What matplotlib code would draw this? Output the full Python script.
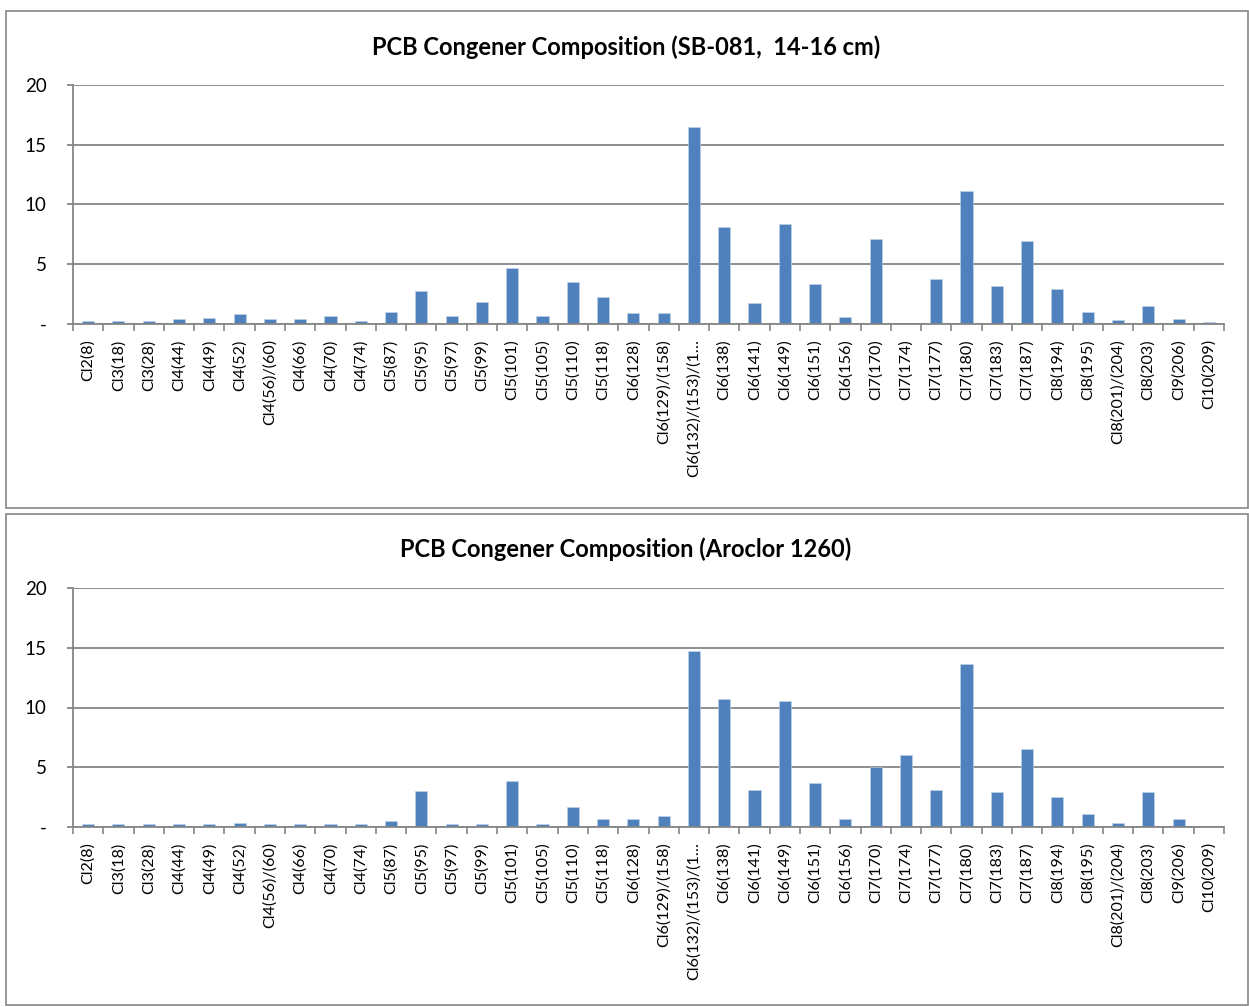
import numpy as np
import matplotlib
matplotlib.use("Agg")
import matplotlib.pyplot as plt
from matplotlib.patches import Rectangle
from matplotlib.ticker import FixedLocator, FuncFormatter

congeners = ["Cl2(8)", "Cl3(18)", "Cl3(28)", "Cl4(44)", "Cl4(49)", "Cl4(52)",
             "Cl4(56)/(60)", "Cl4(66)", "Cl4(70)", "Cl4(74)", "Cl5(87)", "Cl5(95)",
             "Cl5(97)", "Cl5(99)", "Cl5(101)", "Cl5(105)", "Cl5(110)", "Cl5(118)",
             "Cl6(128)", "Cl6(129)/(158)", "Cl6(132)/(153)/(1\u2026", "Cl6(138)",
             "Cl6(141)", "Cl6(149)", "Cl6(151)", "Cl6(156)", "Cl7(170)", "Cl7(174)",
             "Cl7(177)", "Cl7(180)", "Cl7(183)", "Cl7(187)", "Cl8(194)", "Cl8(195)",
             "Cl8(201)/(204)", "Cl8(203)", "Cl9(206)", "Cl10(209)"]

# percent composition, sediment sample SB-081 (14-16 cm)
sb081 = [0.25, 0.25, 0.25, 0.4, 0.5, 0.8,
         0.4, 0.4, 0.7, 0.25, 1.0, 2.8,
         0.7, 1.8, 4.7, 0.7, 3.55, 2.3,
         0.95, 0.9, 16.5, 8.1,
         1.75, 8.4, 3.35, 0.6, 7.1, 0.0,
         3.8, 11.15, 3.2, 6.95, 2.9, 1.03,
         0.33, 1.48, 0.45, 0.2]

# percent composition, Aroclor 1260 standard
aroclor1260 = [0.22, 0.22, 0.22, 0.22, 0.22, 0.35,
               0.22, 0.22, 0.22, 0.22, 0.5, 2.98,
               0.22, 0.22, 3.82, 0.22, 1.67, 0.64,
               0.64, 0.95, 14.76, 10.75,
               3.09, 10.58, 3.65, 0.64, 4.98, 5.99,
               3.09, 13.62, 2.95, 6.55, 2.53, 1.06,
               0.36, 2.95, 0.64, 0.0]

titles = ["PCB Congener Composition (SB-081,  14-16 cm)",
          "PCB Congener Composition (Aroclor 1260)"]

W, H = 1249, 1007
fig = plt.figure(figsize=(W / 100, H / 100), dpi=100)
grey = "#868686"
blue = "#4F81BD"

def fx(px):
    return px / W

def fy(py):
    return 1 - py / H

# (panel top, panel bottom, axes top, axes bottom, title y) in pixels
panels = [(11, 508, 85, 324, 47), (514, 1005, 588, 827, 549)]

x = np.arange(len(congeners))
for vals, title, (ptop, pbot, atop, abot, ty) in zip([sb081, aroclor1260], titles, panels):
    fig.patches.append(Rectangle((fx(6), fy(pbot)), fx(1242), (pbot - ptop) / H,
                                 transform=fig.transFigure, fill=False,
                                 edgecolor=grey, lw=1.2))
    ax = fig.add_axes([fx(73), fy(abot), fx(1224 - 73), (abot - atop) / H])
    ax.bar(x, vals, width=0.4, color=blue, edgecolor="#C6D6EA", lw=0.4, zorder=3)
    ax.set_xlim(-0.5, len(congeners) - 0.5)
    ax.set_ylim(0, 20)
    ax.set_yticks([0, 5, 10, 15, 20])
    ax.yaxis.set_major_formatter(FuncFormatter(lambda v, p: "-" if v == 0 else "%d" % v))
    ax.grid(axis="y", color=grey, lw=1.3, zorder=0)
    for s in ["top", "right"]:
        ax.spines[s].set_visible(False)
    for s in ["left", "bottom"]:
        ax.spines[s].set_color(grey)
        ax.spines[s].set_linewidth(1.3)
        ax.spines[s].set_zorder(4)
    ax.tick_params(axis="y", length=4, width=1.3, color=grey, pad=15,
                   labelsize=13.5, labelfontfamily="Lato")
    ax.set_xticks(x)
    ax.set_xticklabels(congeners, rotation=90)
    ax.tick_params(axis="x", which="major", length=0, pad=11,
                   labelsize=11.6, labelfontfamily="Lato")
    ax.xaxis.set_minor_locator(FixedLocator(np.arange(len(congeners) + 1) - 0.5))
    ax.tick_params(axis="x", which="minor", length=5, width=1.2, color=grey)
    fig.text(0.501, fy(ty), title, ha="center", va="center", fontsize=17,
             fontweight="bold", fontfamily="Lato")

fig.savefig("out.png", dpi=100, facecolor="white")
